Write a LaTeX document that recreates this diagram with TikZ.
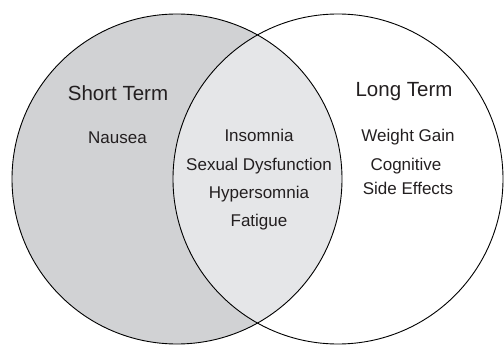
\documentclass[tikz,border=0pt]{standalone}
\usepackage{fontspec}
\setmainfont{Liberation Sans}
\definecolor{shortfill}{RGB}{209,210,212}
\definecolor{overlapfill}{RGB}{229,230,232}
\definecolor{textcol}{RGB}{35,31,32}
\begin{document}
\begin{tikzpicture}[x=1pt,y=-1pt,
  bigtitle/.style={font=\fontsize{20.5}{24}\selectfont, anchor=base, inner sep=0pt, text=textcol},
  item/.style={font=\fontsize{17}{20}\selectfont, anchor=base, inner sep=0pt, text=textcol},
  ring/.style={draw=black, line width=0.9pt}]
\useasboundingbox (0,0) rectangle (504,345);
\fill[shortfill] (177,179) circle[radius=165pt];
\begin{scope}
  \clip (177,179) circle[radius=165pt];
  \fill[overlapfill] (338,179) circle[radius=165pt];
\end{scope}
\draw[ring] (177,179) circle[radius=165pt];
\draw[ring] (338,179) circle[radius=165pt];
\node[bigtitle] (st) at (118,100) {Short Term};
\node[item] (nau) at (117.5,143) {Nausea};
\node[bigtitle] (lt) at (404,97) {Long Term};
\node[item] (wg) at (408,142) {Weight Gain};
\node[item] (cog) at (406,171) {Cognitive};
\node[item] (se) at (408,194) {Side Effects};
\node[item] (ins) at (259,142) {Insomnia};
\node[item] (sd) at (259,171) {Sexual Dysfunction};
\node[item] (hyp) at (259,198) {Hypersomnia};
\node[item] (fat) at (259,226) {Fatigue};
\end{tikzpicture}
\end{document}
